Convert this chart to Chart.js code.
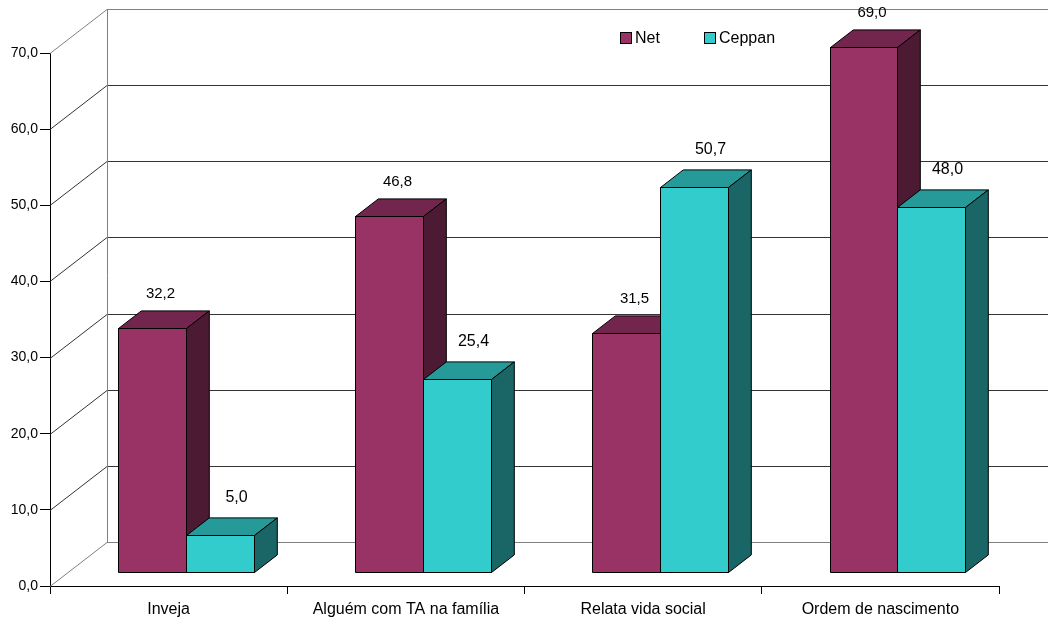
<!DOCTYPE html>
<html>
<head>
<meta charset="utf-8">
<script src="https://cdn.jsdelivr.net/npm/chart.js@4.4.1/dist/chart.umd.min.js"></script>
<style>
  html, body { margin: 0; padding: 0; background: #fff; }
  canvas { display: block; }
</style>
</head>
<body>
<canvas id="chart" width="1048" height="621"></canvas>
<script>
const categories = ['Inveja', 'Alguém com TA na família', 'Relata vida social', 'Ordem de nascimento'];
const netValues = [32.2, 46.8, 31.5, 69.0];
const ceppanValues = [5.0, 25.4, 50.7, 48.0];
const seriesNames = ['Net', 'Ceppan'];
const yTicks = [0, 10, 20, 30, 40, 50, 60, 70];

// face shades per series: front, top, side
const shades = [
  ['#993366', '#73264d', '#4d1a33'],
  ['#33cccc', '#269999', '#1a6666']
];

const FONT = 'Arial, "Liberation Sans", sans-serif';
const DEPTH = { x: 57, y: -44 };   // depth of the whole box
const BAR_DEPTH = 0.4;             // bar thickness, share of box depth

const fmt = v => Number(v).toFixed(1).replace('.', ',');

function face(ctx, pts, fill) {
  ctx.beginPath();
  ctx.moveTo(pts[0][0], pts[0][1]);
  for (let i = 1; i < pts.length; i++) ctx.lineTo(pts[i][0], pts[i][1]);
  ctx.closePath();
  ctx.fillStyle = fill;
  ctx.fill();
  ctx.stroke();
}

const box3d = {
  id: 'box3d',
  beforeDatasetsDraw(chart) {
    const { ctx, chartArea: a, scales: { y } } = chart;
    ctx.save();
    ctx.lineWidth = 1;

    // back wall gridlines and the left wall diagonals
    yTicks.forEach(v => {
      const py = Math.round(y.getPixelForValue(v)) + 0.5;
      const edge = v === 0 || v === y.max;
      ctx.strokeStyle = edge ? '#808080' : '#333333';
      ctx.beginPath();
      ctx.moveTo(a.left, py);
      ctx.lineTo(a.left + DEPTH.x, py + DEPTH.y);
      ctx.lineTo(a.right + DEPTH.x, py + DEPTH.y);
      ctx.stroke();
    });
    const wx = Math.round(a.left + DEPTH.x) + 0.5;
    ctx.strokeStyle = '#808080';
    ctx.beginPath();
    ctx.moveTo(wx, Math.round(y.getPixelForValue(y.max)) + DEPTH.y);
    ctx.lineTo(wx, Math.round(y.getPixelForValue(0)) + DEPTH.y);
    ctx.stroke();

    // bars, left to right so each one covers its neighbour's side
    const fx = DEPTH.x * (1 - BAR_DEPTH) / 2, fy = DEPTH.y * (1 - BAR_DEPTH) / 2;
    const bx = DEPTH.x * BAR_DEPTH, by = DEPTH.y * BAR_DEPTH;
    const tops = [];
    ctx.strokeStyle = '#000';
    categories.forEach((_, i) => {
      chart.data.datasets.forEach((ds, d) => {
        const bar = chart.getDatasetMeta(d).data[i];
        const l = Math.round(bar.x - bar.width / 2 + fx) + 0.5;
        const r = Math.round(bar.x + bar.width / 2 + fx) + 0.5;
        const t = Math.round(bar.y + fy) + 0.5;
        const b = Math.round(bar.base + fy) + 0.5;
        const s = shades[d];
        face(ctx, [[l, t], [r, t], [r, b], [l, b]], s[0]);
        face(ctx, [[l, t], [l + bx, t + by], [r + bx, t + by], [r, t]], s[1]);
        face(ctx, [[r, t], [r + bx, t + by], [r + bx, b + by], [r, b]], s[2]);
        tops.push({ d, x: (l + r) / 2, y: t + by, v: ds.data[i] });
      });
    });

    // value labels
    ctx.fillStyle = '#000';
    ctx.textAlign = 'center';
    ctx.textBaseline = 'middle';
    tops.forEach(p => {
      ctx.font = (p.d === 0 ? '15px ' : '16px ') + FONT;
      ctx.fillText(fmt(p.v), p.x + (p.d === 0 ? 8 : 16), p.y - (p.d === 0 ? 17 : 20));
    });

    // legend
    const legendX = [620, 704];
    ctx.font = '16px ' + FONT;
    ctx.textAlign = 'left';
    seriesNames.forEach((name, d) => {
      ctx.fillStyle = shades[d][0];
      ctx.fillRect(legendX[d] + 0.5, 32.5, 11, 11);
      ctx.strokeRect(legendX[d] + 0.5, 32.5, 11, 11);
      ctx.fillStyle = '#000';
      ctx.fillText(name, legendX[d] + 15, 39);
    });
    ctx.restore();
  }
};

new Chart(document.getElementById('chart'), {
  type: 'bar',
  data: {
    labels: categories,
    datasets: [
      { label: seriesNames[0], data: netValues },
      { label: seriesNames[1], data: ceppanValues }
    ].map(ds => Object.assign(ds, {
      backgroundColor: 'rgba(0,0,0,0)',
      borderWidth: 0,
      categoryPercentage: 0.573,
      barPercentage: 1
    }))
  },
  options: {
    responsive: false,
    animation: false,
    layout: { padding: { top: 53, right: 49, left: 0, bottom: 0 } },
    plugins: { legend: { display: false }, tooltip: { enabled: false } },
    scales: {
      x: {
        grid: { offset: true, drawOnChartArea: false, tickLength: 8, color: '#000' },
        border: { color: '#000' },
        ticks: { color: '#000', font: { family: FONT, size: 16 }, padding: 6, maxRotation: 0 },
        afterFit: s => { s.height = 35; }
      },
      y: {
        min: 0,
        max: 70,
        afterBuildTicks: s => { s.ticks = yTicks.map(v => ({ value: v })); },
        grid: { drawOnChartArea: false, tickLength: 10, color: '#000' },
        border: { color: '#000' },
        ticks: { color: '#000', font: { family: FONT, size: 14 }, padding: 2, callback: fmt },
        afterFit: s => { s.width = 50; }
      }
    }
  },
  plugins: [box3d]
});
</script>
</body>
</html>
